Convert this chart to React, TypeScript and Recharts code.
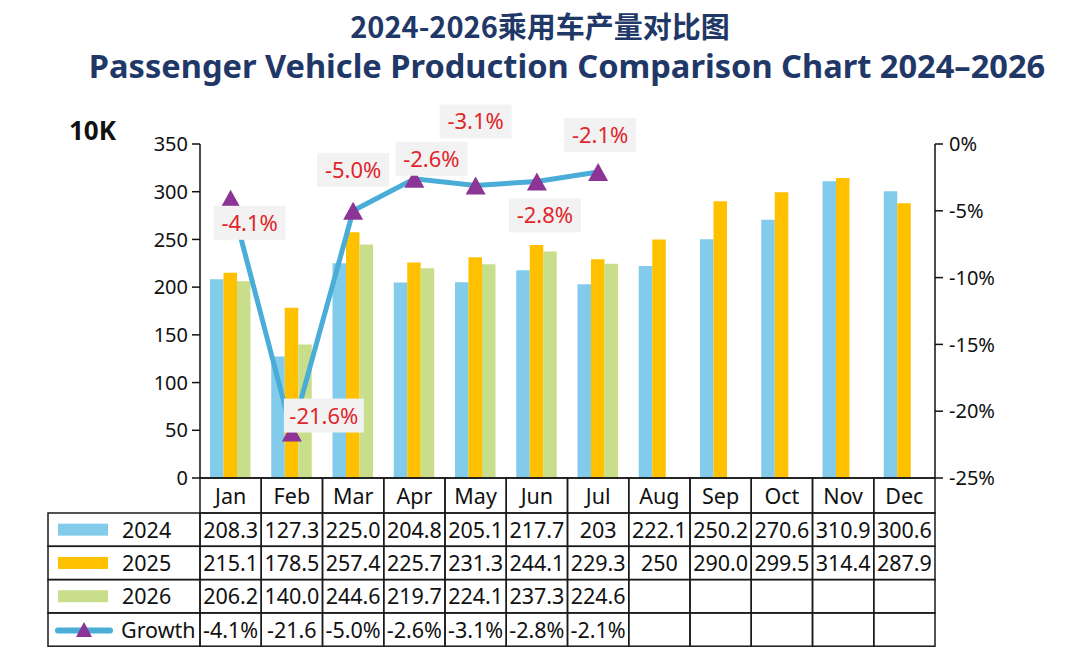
import React from 'react';
import { ComposedChart, Bar, Line, XAxis, YAxis } from 'recharts';

const MONTHS = ['Jan', 'Feb', 'Mar', 'Apr', 'May', 'Jun', 'Jul', 'Aug', 'Sep', 'Oct', 'Nov', 'Dec'];
// values as printed in the table below the chart (10K vehicles)
const P2024 = ['208.3', '127.3', '225.0', '204.8', '205.1', '217.7', '203', '222.1', '250.2', '270.6', '310.9', '300.6'];
const P2025 = ['215.1', '178.5', '257.4', '225.7', '231.3', '244.1', '229.3', '250', '290.0', '299.5', '314.4', '287.9'];
const P2026 = ['206.2', '140.0', '244.6', '219.7', '224.1', '237.3', '224.6', '', '', '', '', ''];
const GROWTH = ['-4.1%', '-21.6', '-5.0%', '-2.6%', '-3.1%', '-2.8%', '-2.1%', '', '', '', '', ''];
const LEFT_TICKS = [0, 50, 100, 150, 200, 250, 300, 350];
const RIGHT_TICKS = [-25, -20, -15, -10, -5, 0];

const C2024 = '#83cbea';
const C2025 = '#ffc000';
const C2026 = '#c8de8a';
const CLINE = '#4aadd8';
const CMARK = '#8c3596';
const FONT = '"Noto Sans", "Noto Sans CJK SC", sans-serif';

// label box offsets from each growth point (dx, dy)
const LABEL_OFFSETS = [[19, 24], [32, -17], [0, -41], [17, -20], [0, -64], [8, 34], [2, -37]];

const num = (s: string) => (s === '' ? null : parseFloat(s));

const data = MONTHS.map((m, i) => ({
  month: m,
  y2024: num(P2024[i]),
  y2025: num(P2025[i]),
  y2026: num(P2026[i]),
  growth: num(GROWTH[i]),
}));

const ROWS = [
  { label: '2024', cells: P2024, color: C2024 },
  { label: '2025', cells: P2025, color: C2025 },
  { label: '2026', cells: P2026, color: C2026 },
  { label: 'Growth', cells: GROWTH, color: null },
];

const HEAD_H = 35;
const ROW_H = 33.3;
const BAND = 735 / 12;
const LEGEND_LEFT = 48;

function Triangle({ cx, cy, w = 20, h = 18 }: { cx: number; cy: number; w?: number; h?: number }) {
  return (
    <polygon
      points={`${cx},${cy - h / 2} ${cx + w / 2},${cy + h / 2} ${cx - w / 2},${cy + h / 2}`}
      fill={CMARK}
    />
  );
}

function TableTick(props: any) {
  const { x, y, payload } = props;
  const i = payload.index;
  const left = x - BAND / 2;
  const stroke = '#1a1a1a';
  return (
    <g fontFamily={FONT}>
      <rect x={left} y={y} width={BAND} height={HEAD_H} fill="none" stroke={stroke} strokeWidth={1.5} />
      <text x={x} y={y + HEAD_H / 2 + 8} textAnchor="middle" fontSize={21.5} fill="#111">
        {payload.value}
      </text>
      {ROWS.map((r, k) => {
        const top = y + HEAD_H + k * ROW_H;
        return (
          <g key={r.label}>
            <rect x={left} y={top} width={BAND} height={ROW_H} fill="none" stroke={stroke} strokeWidth={1.5} />
            <text x={x} y={top + ROW_H / 2 + 8} textAnchor="middle" fontSize={21.5} fill="#111">
              {r.cells[i]}
            </text>
          </g>
        );
      })}
      {i === 0 &&
        ROWS.map((r, k) => {
          const top = y + HEAD_H + k * ROW_H;
          const w = left - LEGEND_LEFT;
          return (
            <g key={'lg' + r.label}>
              <rect x={LEGEND_LEFT} y={top} width={w} height={ROW_H} fill="none" stroke={stroke} strokeWidth={1.5} />
              {r.color ? (
                <rect x={58} y={top + ROW_H / 2 - 6} width={50} height={12} fill={r.color} />
              ) : (
                <g>
                  <line x1={58} x2={110} y1={top + ROW_H / 2 + 1} y2={top + ROW_H / 2 + 1} stroke={CLINE} strokeWidth={6} strokeLinecap="round" />
                  <Triangle cx={84} cy={top + ROW_H / 2} w={16} h={15} />
                </g>
              )}
              <text x={r.color ? 122 : 121} y={top + ROW_H / 2 + 8} fontSize={21.5} fill="#111">
                {r.label}
              </text>
            </g>
          );
        })}
    </g>
  );
}

function GrowthDot(props: any) {
  const { cx, cy, value } = props;
  if (value == null || cx == null || cy == null) return <g />;
  return <Triangle cx={cx} cy={cy} />;
}

function GrowthLabel(props: any) {
  const { x, y, value, index } = props;
  if (value == null) return null;
  const [dx, dy] = LABEL_OFFSETS[index] || [0, -30];
  const text = `${Number(value).toFixed(1)}%`;
  const w = text.length > 5 ? 80 : 72;
  const h = 34;
  const cx = x + dx;
  const cy = y + dy;
  return (
    <g>
      <rect x={cx - w / 2} y={cy - h / 2} width={w} height={h} fill="#f2f2f2" />
      <text x={cx} y={cy + 8} textAnchor="middle" fontSize={22} fill="#e0262b" fontFamily={FONT}>
        {text}
      </text>
    </g>
  );
}

export default function App() {
  return (
    <div
      style={{
        position: 'relative',
        width: 1080,
        height: 656,
        margin: '-8px 0 0 -8px',
        background: '#fff',
        fontFamily: FONT,
        overflow: 'hidden',
      }}
    >
      <div
        style={{
          position: 'absolute',
          top: 7,
          left: 0,
          width: 1080,
          textAlign: 'center',
          color: '#1f3867',
          fontWeight: 700,
          lineHeight: 1.25,
        }}
      >
        <div style={{ fontSize: 29, fontFamily: '"Noto Sans CJK SC", "Noto Sans", sans-serif' }}>
          2024-2026乘用车产量对比图
        </div>
        <div style={{ fontSize: 32.6, marginTop: 3, paddingLeft: 54 }}>
          Passenger Vehicle Production Comparison Chart 2024–2026
        </div>
      </div>
      <div style={{ position: 'absolute', left: 69, top: 112, fontSize: 26, fontWeight: 700, color: '#111' }}>10K</div>
      <div style={{ position: 'absolute', left: 0, top: 0 }}>
        <ComposedChart
          width={1080}
          height={656}
          data={data}
          margin={{ top: 144, right: 75, bottom: 0, left: 140 }}
          barGap={0}
        >
          <XAxis
            dataKey="month"
            height={178}
            interval={0}
            tickLine={false}
            tickSize={0}
            tickMargin={0}
            axisLine={{ stroke: '#111', strokeWidth: 1.5 }}
            tick={<TableTick />}
          />
          <YAxis
            yAxisId="left"
            width={60}
            domain={[0, 350]}
            ticks={LEFT_TICKS}
            interval={0}
            tickSize={8}
            tickMargin={4}
            axisLine={{ stroke: '#111', strokeWidth: 1.5 }}
            tickLine={{ stroke: '#111', strokeWidth: 1.5 }}
            tick={{ fill: '#111', fontSize: 20, fontFamily: FONT }}
          />
          <YAxis
            yAxisId="right"
            orientation="right"
            width={70}
            domain={[-25, 0]}
            ticks={RIGHT_TICKS}
            interval={0}
            tickSize={8}
            tickMargin={6}
            tickFormatter={(v) => `${v}%`}
            axisLine={{ stroke: '#111', strokeWidth: 1.5 }}
            tickLine={{ stroke: '#111', strokeWidth: 1.5 }}
            tick={{ fill: '#111', fontSize: 20, fontFamily: FONT }}
          />
          <Bar yAxisId="left" dataKey="y2024" fill={C2024} barSize={13.5} isAnimationActive={false} />
          <Bar yAxisId="left" dataKey="y2025" fill={C2025} barSize={13.5} isAnimationActive={false} />
          <Bar yAxisId="left" dataKey="y2026" fill={C2026} barSize={13.5} isAnimationActive={false} />
          <Line
            yAxisId="right"
            dataKey="growth"
            stroke={CLINE}
            strokeWidth={5}
            dot={<GrowthDot />}
            activeDot={false}
            label={<GrowthLabel />}
            isAnimationActive={false}
          />
        </ComposedChart>
      </div>
    </div>
  );
}
